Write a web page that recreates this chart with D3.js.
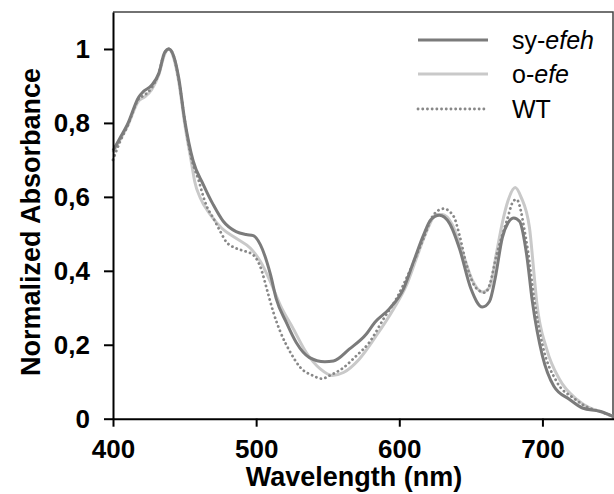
<!DOCTYPE html>
<head>
	<meta charset="utf-8">
	<title>Normalized Absorbance</title>
	<script src="https://d3js.org/d3.v7.min.js"></script>
	<style>
	body { margin:0; background:#fff; }
	text { font-family:"Liberation Sans", Arial, sans-serif; fill:#000; }
	.tick text { font-weight:bold; font-size:26px; }
	.axis path, .axis line { stroke:#000; stroke-width:2px; }
	.axistitle { font-weight:bold; font-size:27px; }
	.legendtext { font-size:25px; }
	.syline { fill:none; stroke:#7b7b7b; stroke-width:3px; stroke-linejoin:round; }
	.oline { fill:none; stroke:#c9c9c9; stroke-width:3px; stroke-linejoin:round; }
	.wtline { fill:none; stroke:#888; stroke-width:2.8px; stroke-dasharray:0.1 4.6; stroke-linecap:round; }
	</style>
</head>
<body>
<div class="chartContainer"></div>
<script>
// sy-efeh
var syWl  = [400,405,410,418,421,427,432,436,439,442,446,450,456,463,470,477,486,493,498,503,510,514,521,528,537,548,554,565,577,583,593,603,610,617,622,628,635,642,650,658,663,667,672,676,680,684,689,693,700,708,719,728,740,750];
var syAbs = [0.725,0.76,0.795,0.87,0.884,0.902,0.934,0.99,1.0,0.985,0.92,0.81,0.697,0.634,0.579,0.534,0.506,0.498,0.495,0.47,0.39,0.325,0.261,0.206,0.166,0.154,0.156,0.188,0.229,0.261,0.297,0.352,0.425,0.497,0.538,0.55,0.529,0.461,0.352,0.302,0.317,0.38,0.49,0.53,0.543,0.534,0.443,0.316,0.17,0.088,0.052,0.029,0.02,0.005];
// o-efe
var oWl  = [400,405,410,418,422,427,432,436,439,442,446,450,455,457,461,468,476,486,496,503,510,517,526,535,545,553,561,572,584,596,605,612,619,626,630,637,644,651,658,663,668,672,676,681,685,691,694,696,703,712,724,733,740,750];
var oAbs = [0.72,0.755,0.79,0.86,0.87,0.89,0.93,0.985,1.0,0.98,0.91,0.80,0.688,0.643,0.597,0.552,0.515,0.488,0.461,0.425,0.37,0.306,0.243,0.179,0.134,0.117,0.125,0.161,0.225,0.297,0.361,0.434,0.506,0.552,0.552,0.525,0.452,0.375,0.343,0.355,0.45,0.53,0.59,0.625,0.6,0.515,0.397,0.316,0.188,0.106,0.052,0.029,0.02,0.005];
// WT
var wtWl  = [400,405,410,418,422,427,432,436,439,442,446,450,455,457,460,462,465,470,475,479,486,493,498,503,508,512,517,524,531,540,546,551,561,570,579,589,598,607,617,624,631,638,642,647,654,660,663,668,675,680,682,685,687,690,694,700,710,722,732,740,750];
var wtAbs = [0.70,0.75,0.79,0.865,0.875,0.895,0.935,0.99,1.0,0.985,0.915,0.81,0.70,0.675,0.643,0.615,0.579,0.543,0.506,0.479,0.461,0.452,0.443,0.41,0.343,0.288,0.234,0.179,0.138,0.116,0.108,0.116,0.138,0.17,0.206,0.27,0.325,0.397,0.488,0.552,0.568,0.547,0.497,0.416,0.352,0.341,0.361,0.443,0.534,0.59,0.593,0.561,0.52,0.45,0.33,0.2,0.1,0.055,0.03,0.02,0.005];

var xTicks = [400,500,600,700];
var yTicks = [0,0.2,0.4,0.6,0.8,1];
var legendNames = [["sy-", "efeh"], ["o-", "efe"], ["", "WT"]];

var margin = {top: 12, right: 1, bottom: 79, left: 113};
var totalWidth = 614, totalHeight = 494;
var width = totalWidth - margin.left - margin.right,
	height = totalHeight - margin.top - margin.bottom;

var svg = d3.select(".chartContainer").append("svg")
	.attr("width", totalWidth)
	.attr("height", totalHeight);
var g = svg.append("g")
	.attr("transform", "translate(" + margin.left + "," + margin.top + ")");

var x = d3.scaleLinear().domain([400, 750]).range([0, width + 1]);
var y = d3.scaleLinear().domain([0, 1.1]).range([height + 3.7, 0]);

// frame on top and right
g.append("path")
	.attr("d", "M0,0H" + width + "V" + y(0))
	.attr("fill", "none")
	.attr("stroke", "#444")
	.attr("stroke-width", 1.5);

var zip = function(wl, ab) { return wl.map(function(w, i) { return [w, ab[i]]; }); };
var line = d3.line()
	.curve(d3.curveMonotoneX)
	.x(function(d) { return x(d[0]); })
	.y(function(d) { return y(d[1]); });

g.append("path").attr("class", "oline").attr("d", line(zip(oWl, oAbs)));
g.append("path").attr("class", "wtline").attr("d", line(zip(wtWl, wtAbs)));
g.append("path").attr("class", "syline").attr("d", line(zip(syWl, syAbs)));

// axes
g.append("g")
	.attr("class", "axis")
	.attr("transform", "translate(0," + y(0) + ")")
	.call(d3.axisBottom(x).tickValues(xTicks).tickSize(8).tickSizeOuter(0).tickPadding(5))
	.selectAll(".tick text").attr("dy", "1em");
g.append("g")
	.attr("class", "axis")
	.call(d3.axisLeft(y).tickValues(yTicks).tickSize(9).tickSizeOuter(0).tickPadding(14)
		.tickFormat(function(d) { return d === 0 || d === 1 ? d : d3.format(".1f")(d).replace(".", ","); }));

// axis titles
svg.append("text")
	.attr("class", "axistitle")
	.attr("x", 354).attr("y", 486)
	.attr("text-anchor", "middle")
	.text("Wavelength (nm)");
svg.append("text")
	.attr("class", "axistitle")
	.attr("transform", "translate(40,222) rotate(-90)")
	.attr("text-anchor", "middle")
	.text("Normalized Absorbance");

// legend
var legendY = [40, 74, 109];
var classes = ["syline", "oline", "wtline"];
legendNames.forEach(function(n, i) {
	svg.append("line")
		.attr("class", classes[i])
		.attr("x1", 418).attr("x2", 488)
		.attr("y1", legendY[i]).attr("y2", legendY[i]);
	var t = svg.append("text")
		.attr("class", "legendtext")
		.attr("x", 512).attr("y", legendY[i] + 9);
	if (i < 2) {
		t.append("tspan").text(n[0]);
		t.append("tspan").attr("font-style", "italic").text(n[1]);
	} else {
		t.text(n[1]);
	}
});
</script>
</body>
</html>
